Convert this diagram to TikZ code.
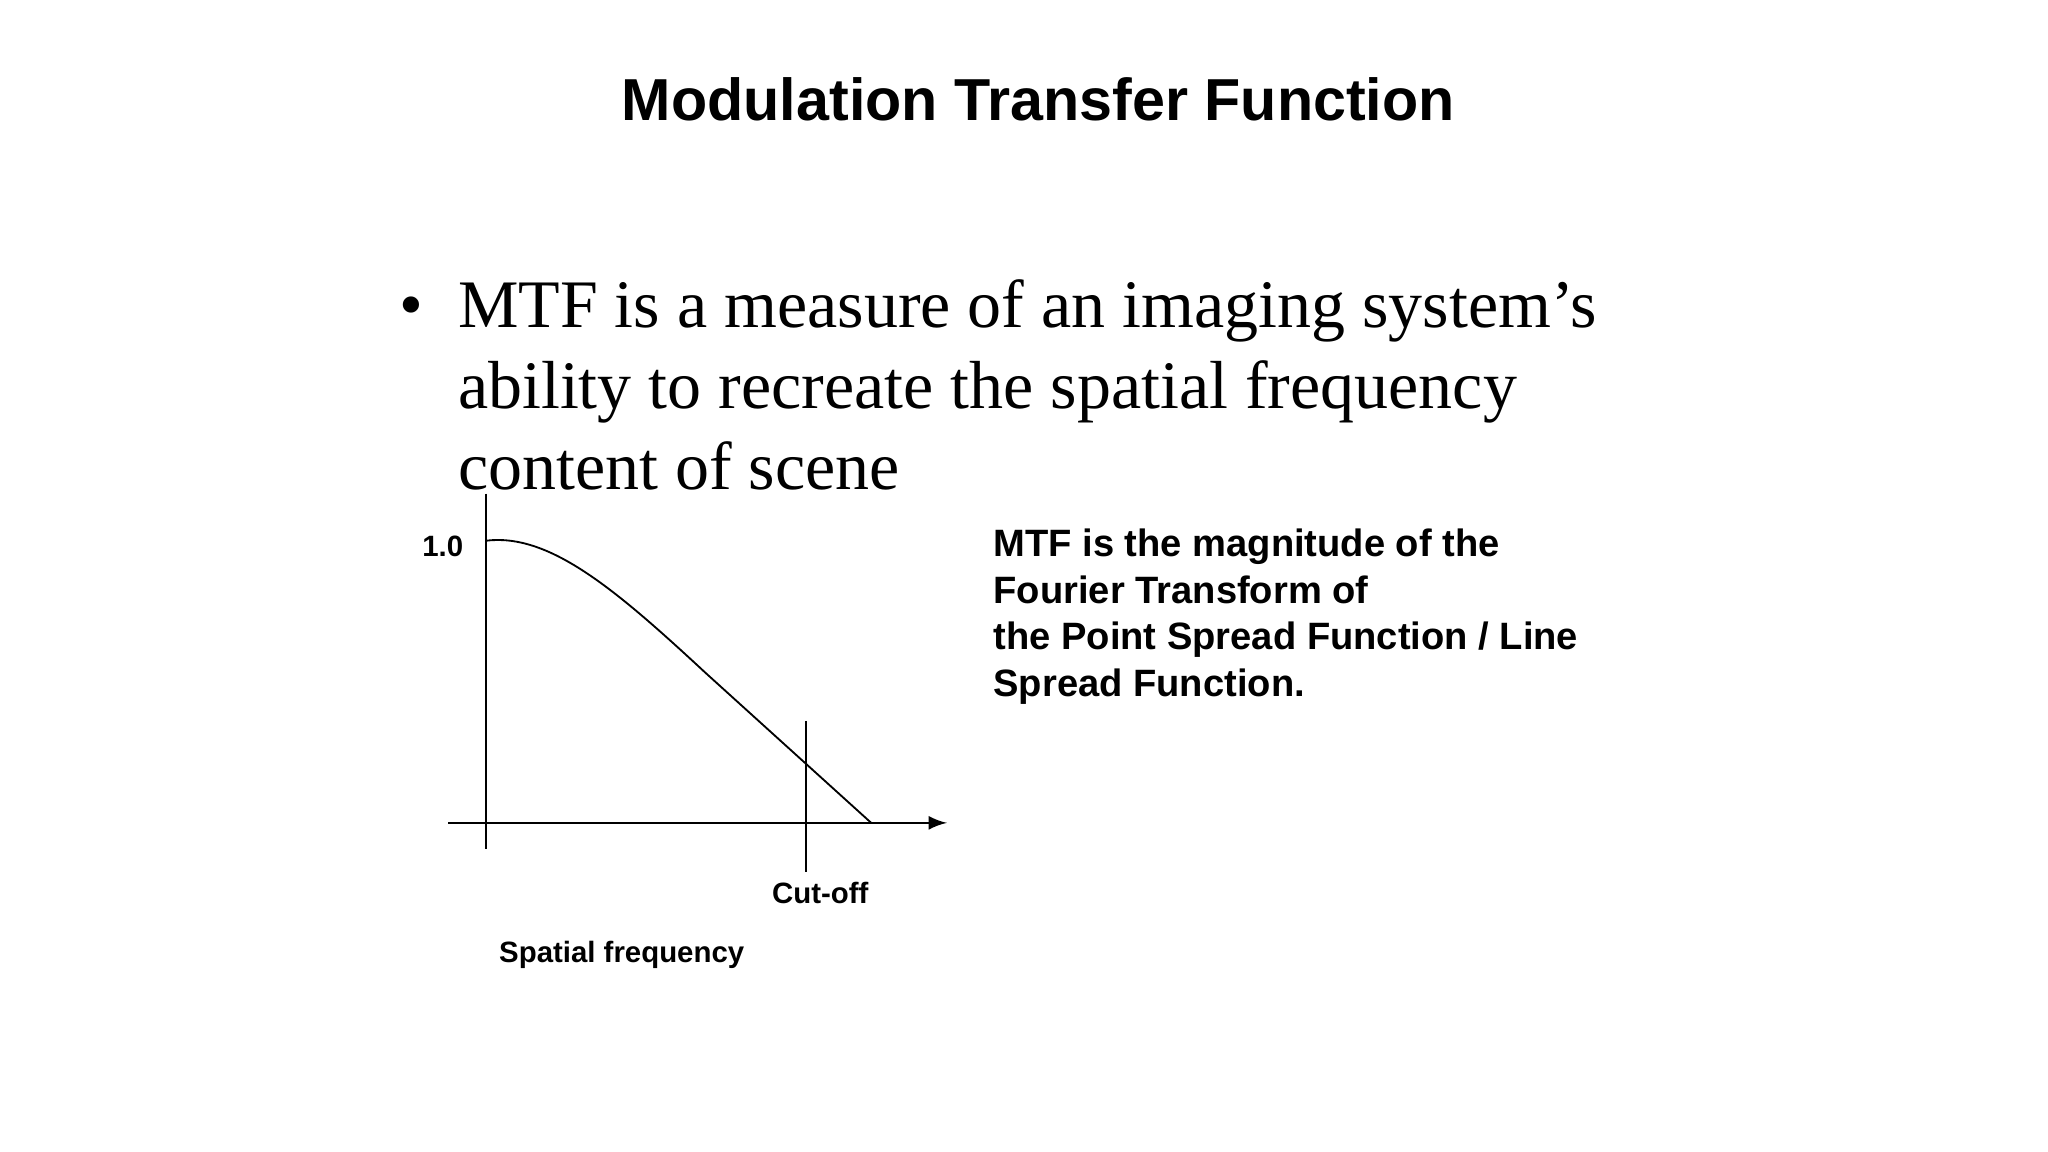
\documentclass[tikz,border=0pt]{standalone}
\usepackage{fontspec}
\setmainfont{Liberation Serif}
\setsansfont{Liberation Sans}
\begin{document}
\begin{tikzpicture}[x=0.01cm,y=-0.01cm,
  ln/.style={line width=0.4pt},
  lbl/.style={font=\sffamily\bfseries\fontsize{6.4}{9}\selectfont,inner sep=0pt},
  body/.style={font=\fontsize{14.8}{17.6}\selectfont,inner sep=0pt,anchor=base west}]
\useasboundingbox (0,0) rectangle (1568,882);
\node[font=\sffamily\bfseries\fontsize{12.9}{14}\selectfont,inner sep=0pt] (title) at (795,76) {Modulation Transfer Function};
\node[body] (bul) at (305,251) {\textbullet};
\node[body] (l1) at (350,251) {MTF is a measure of an imaging system’s};
\node[body] (l2) at (350,313) {ability to recreate the spatial frequency};
\node[body] (l3) at (350,375) {content of scene};
\coordinate (ya) at (372,378); \coordinate (yb) at (372,650);
\coordinate (xa) at (343,630); \coordinate (xb) at (725,630);
\coordinate (ca) at (617,552); \coordinate (cb) at (617,668);
\draw[ln] (ya) -- (yb);
\draw[ln,-latex] (xa) -- (xb);
\draw[ln] (ca) -- (cb);
\coordinate (c0) at (372,414); \coordinate (c1) at (540,515); \coordinate (c2) at (667,630);
\draw[ln] (c0) .. controls (420,408) and (470,450) .. (c1) -- (c2);
\node[lbl] (one) at (339,418) {1.0};
\node[lbl] (cut) at (628,684) {Cut-off};
\node[lbl] (sf) at (476,731) {Spatial frequency};
\node[lbl,anchor=north west,align=left,font=\sffamily\bfseries\fontsize{8.3}{10.2}\selectfont] (desc) at (760,404)
 {MTF is the magnitude of the\\Fourier Transform of\\the Point Spread Function / Line\\Spread Function.};
\end{tikzpicture}
\end{document}
